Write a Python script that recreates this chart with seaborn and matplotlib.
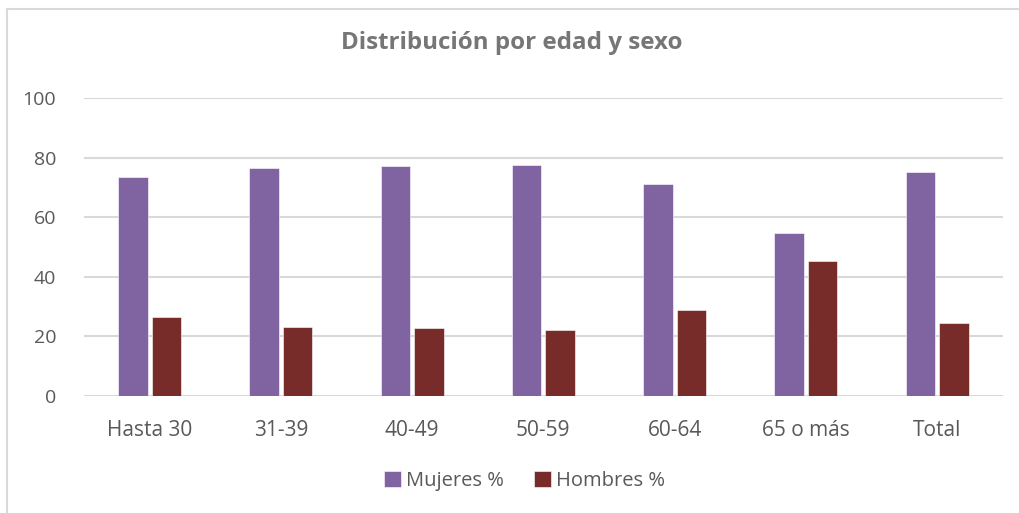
# Distribución por edad y sexo - barras agrupadas
import pandas as pd
import matplotlib.pyplot as plt
import seaborn as sns
from matplotlib.lines import Line2D

# Datos
categorias = ["Hasta 30", "31-39", "40-49", "50-59", "60-64", "65 o más", "Total"]
mujeres = [73.5, 76.5, 77.1, 77.6, 71.3, 54.6, 75.3]
hombres = [26.4, 23.2, 22.8, 22.3, 28.7, 45.2, 24.5]
series = ["Mujeres %", "Hombres %"]
colores = ["#8064A2", "#772C2A"]

df = pd.DataFrame({
    "grupo": categorias * 2,
    "valor": mujeres + hombres,
    "serie": [series[0]] * len(categorias) + [series[1]] * len(categorias),
})

sns.set_style("white")
plt.rcParams["font.family"] = ["Open Sans", "DejaVu Sans"]
gris = "#595959"

fig = plt.figure(figsize=(10.19, 5.13), dpi=100)
ax = fig.add_axes([0.0824, 0.228, 0.9016, 0.581])

sns.barplot(data=df, x="grupo", y="valor", hue="serie", palette=colores,
            saturation=1, width=0.51, gap=0.118, ax=ax, edgecolor="white",
            linewidth=0.4, zorder=3)

ax.set_ylim(0, 100)
ax.set_yticks(range(0, 101, 20))
ax.set_xlim(-0.5, len(categorias) - 0.5)
ax.yaxis.grid(True, color="#d9d9d9", linewidth=1.5, zorder=0)
ax.set_axisbelow(True)
for s in ax.spines.values():
    s.set_visible(False)
ax.tick_params(axis="both", length=0, colors=gris)
ax.tick_params(axis="x", pad=17, labelsize=15)
ax.tick_params(axis="y", pad=20, labelsize=14)
ax.set_xlabel("")
ax.set_ylabel("")

# Leyenda abajo
h, l = ax.get_legend_handles_labels()
ax.legend(h, l, loc="center", bbox_to_anchor=(0.515, 0.062), bbox_transform=fig.transFigure,
          ncol=2, frameon=False, fontsize=14.5, handlelength=0.85, handleheight=0.85,
          handletextpad=0.25, columnspacing=1.5, labelcolor=gris)

fig.text(0.502, 0.916, "Distribución por edad y sexo", ha="center", va="center",
         fontsize=17.4, fontweight="bold", color="#767676")

# Marco del gráfico (solo se ven arriba e izquierda)
fig.add_artist(Line2D([7 / 1019, 7 / 1019], [0, 1 - 9 / 513], transform=fig.transFigure,
                      color="#d9d9d9", linewidth=1.5))
fig.add_artist(Line2D([7 / 1019, 1], [1 - 9 / 513, 1 - 9 / 513], transform=fig.transFigure,
                      color="#d9d9d9", linewidth=1.5))

fig.savefig("out.png", dpi=100, facecolor="white")
